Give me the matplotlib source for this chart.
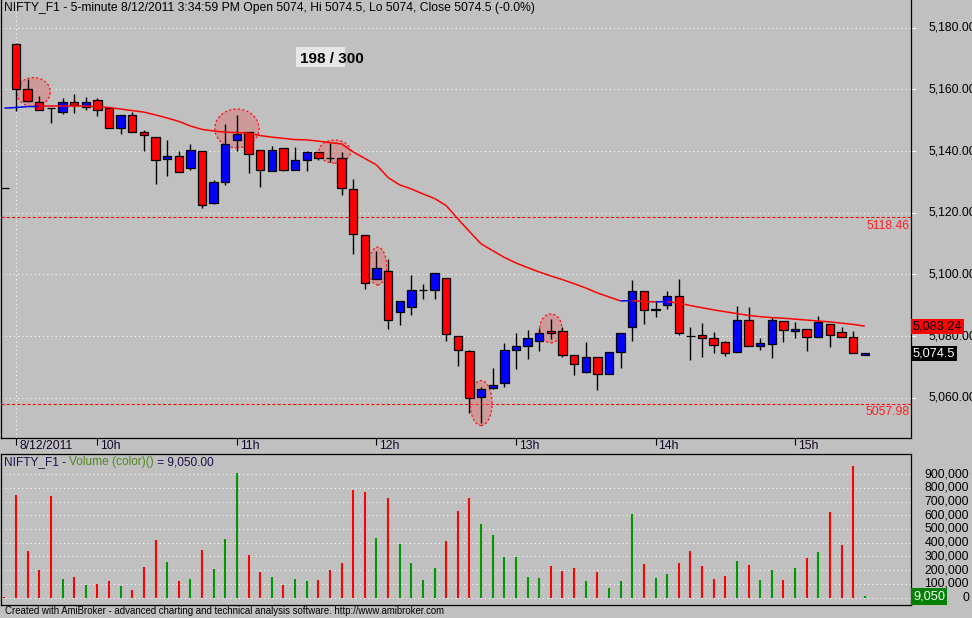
import numpy as np
import matplotlib
matplotlib.use('Agg')
import matplotlib.pyplot as plt
from matplotlib.patches import Ellipse, Rectangle
from matplotlib.collections import LineCollection
from matplotlib.transforms import blended_transform_factory

plt.rcParams['font.family'] = ['Liberation Sans', 'DejaVu Sans']

# 5-minute bars, index -1 is the last bar of the previous session
bar_index = np.arange(-1, 74)
opens = [5128.0,
         5174.7, 5160.0, 5155.8, 5153.8, 5152.5, 5155.8, 5154.2, 5156.4, 5153.8, 5147.4,
         5151.6, 5146.1, 5144.7, 5137.3, 5138.3, 5134.5, 5139.9, 5123.1, 5129.9, 5143.5,
         5146.1, 5140.2, 5133.4, 5140.9, 5133.8, 5137.0, 5139.6, 5137.8, 5137.6, 5127.8,
         5112.8, 5098.5, 5101.1, 5087.7, 5089.4, 5095.0, 5094.9, 5098.9, 5080.1, 5075.2,
         5060.3, 5063.1, 5064.7, 5075.4, 5076.7, 5078.3, 5081.6, 5081.6, 5073.8, 5068.3,
         5073.1, 5067.6, 5074.7, 5082.9, 5094.5, 5088.6, 5090.0, 5092.9, 5079.9, 5080.3,
         5079.3, 5078.0, 5074.7, 5085.1, 5076.7, 5077.3, 5084.8, 5081.6, 5082.2, 5079.6,
         5083.8, 5081.2, 5079.6, 5074.0]
highs = [5128.0,
         5174.9, 5163.3, 5157.8, 5154.0, 5157.3, 5158.5, 5157.5, 5157.2, 5153.8, 5151.6,
         5152.5, 5146.7, 5144.7, 5143.5, 5139.9, 5142.4, 5139.9, 5130.5, 5148.7, 5151.6,
         5146.1, 5140.2, 5141.5, 5140.9, 5141.2, 5139.9, 5139.6, 5142.5, 5139.6, 5130.8,
         5112.8, 5107.6, 5105.1, 5091.3, 5099.8, 5096.8, 5100.5, 5098.9, 5080.1, 5075.4,
         5063.5, 5069.6, 5077.7, 5080.9, 5081.9, 5082.5, 5085.4, 5082.9, 5073.8, 5078.0,
         5073.1, 5074.7, 5080.9, 5098.1, 5094.5, 5091.0, 5094.5, 5098.4, 5082.9, 5084.1,
         5081.2, 5078.4, 5089.7, 5089.3, 5079.3, 5086.1, 5084.8, 5084.5, 5082.2, 5086.4,
         5083.8, 5082.9, 5081.6, 5074.5]
lows = [5128.0,
        5153.1, 5156.0, 5153.2, 5149.2, 5152.1, 5152.4, 5153.4, 5151.4, 5147.4, 5145.4,
        5146.0, 5139.9, 5129.2, 5131.8, 5133.1, 5133.8, 5121.4, 5122.8, 5128.9, 5139.9,
        5132.9, 5128.2, 5133.4, 5133.4, 5133.8, 5133.4, 5137.0, 5136.3, 5125.6, 5106.5,
        5095.3, 5098.5, 5082.3, 5083.5, 5086.8, 5092.1, 5092.1, 5078.4, 5070.3, 5055.1,
        5051.7, 5062.8, 5063.4, 5069.2, 5072.5, 5075.1, 5079.0, 5073.1, 5067.3, 5068.0,
        5062.4, 5067.6, 5069.6, 5078.3, 5083.8, 5086.1, 5088.7, 5080.3, 5072.2, 5073.3,
        5074.4, 5073.5, 5074.7, 5076.7, 5075.4, 5072.8, 5078.2, 5079.3, 5075.1, 5079.6,
        5076.4, 5079.6, 5074.4, 5074.0]
closes = [5128.0,
          5160.0, 5156.3, 5153.2, 5153.8, 5155.8, 5154.8, 5155.8, 5153.2, 5147.4, 5151.6,
          5146.1, 5145.1, 5137.0, 5138.3, 5133.1, 5140.2, 5122.4, 5129.9, 5142.2, 5145.4,
          5138.9, 5134.0, 5140.2, 5134.0, 5137.0, 5139.6, 5137.6, 5137.8, 5127.9, 5113.0,
          5097.3, 5102.1, 5085.2, 5091.3, 5094.9, 5095.05, 5100.5, 5080.7, 5075.6, 5060.0,
          5062.9, 5064.1, 5075.4, 5076.7, 5079.3, 5080.9, 5080.9, 5073.8, 5070.9, 5073.1,
          5067.6, 5074.7, 5080.9, 5094.5, 5088.4, 5088.65, 5092.9, 5080.9, 5079.9, 5079.3,
          5077.0, 5074.4, 5085.1, 5076.7, 5077.7, 5085.1, 5081.9, 5082.2, 5079.6, 5084.5,
          5080.3, 5079.6, 5074.4, 5074.5]
volumes = [7000,
           748000, 340000, 201000, 740000, 136000, 150000, 92000, 100000, 121000, 85000,
           56000, 223000, 420000, 260000, 121000, 136000, 347000, 209000, 427000, 908000,
           311000, 187000, 150000, 92000, 136000, 121000, 129000, 201000, 252000, 784000,
           769000, 434000, 726000, 391000, 252000, 129000, 216000, 413000, 631000, 726000,
           536000, 456000, 296000, 296000, 150000, 143000, 231000, 194000, 216000, 121000,
           187000, 70000, 121000, 609000, 245000, 143000, 172000, 252000, 340000, 231000,
           136000, 158000, 267000, 238000, 129000, 201000, 129000, 216000, 289000, 333000,
           624000, 383000, 959000, 9050]
ma_values = [5153.9,
             5154.1, 5154.4, 5154.5, 5154.5, 5154.5, 5154.5, 5154.5, 5154.4, 5154.1, 5153.6,
             5153.1, 5152.6, 5151.7, 5150.7, 5149.6, 5148.1, 5147.0, 5146.5, 5146.1, 5146.0,
             5145.8, 5145.0, 5144.5, 5144.1, 5143.7, 5143.6, 5143.2, 5142.7, 5142.3, 5139.7,
             5137.6, 5135.5, 5131.4, 5129.0, 5127.7, 5126.1, 5124.6, 5122.3, 5118.0, 5113.9,
             5109.9, 5107.7, 5105.5, 5103.7, 5102.2, 5100.8, 5099.5, 5098.3, 5097.0, 5095.6,
             5094.0, 5092.7, 5091.4, 5091.5, 5091.2, 5091.1, 5091.2, 5090.7, 5089.9, 5089.2,
             5088.5, 5087.9, 5087.3, 5086.7, 5086.3, 5086.0, 5085.8, 5085.5, 5085.2, 5084.9,
             5084.6, 5084.2, 5083.8, 5083.24]

hour_ticks = [0, 7, 19, 31, 43, 55, 67]
hour_labels = ['8/12/2011', '10h', '11h', '12h', '13h', '14h', '15h']
price_levels = [5060, 5080, 5100, 5120, 5140, 5160, 5180]
volume_levels = [0, 100000, 200000, 300000, 400000, 500000, 600000, 700000, 800000, 900000]
hline_levels = [5118.46, 5057.98]
# highlighted bars: (bar, price, width in bars, height in points)
highlights = [(1.5, 5159.1, 2.9, 9.4), (19.0, 5147.3, 3.8, 12.6), (27.4, 5139.8, 2.75, 7.5),
              (31.1, 5102.7, 1.55, 12.3), (40.0, 5058.3, 1.9, 14.6), (46.0, 5082.5, 1.9, 9.4)]

BG = '#c0c0c0'
W, H = 972, 618
fig = plt.figure(figsize=(9.72, 6.18), dpi=100, facecolor=BG)

def frac(x0, y0, x1, y1):
    return [x0 / W, 1 - y1 / H, (x1 - x0) / W, (y1 - y0) / H]

ax = fig.add_axes(frac(0.5, 0, 911.3, 438.3), facecolor=BG)
axv = fig.add_axes(frac(0.5, 454.3, 911.3, 605), facecolor=BG)

o = np.array(opens); c = np.array(closes)
up = c > o
body_col = np.where(up, '#0000ff', '#ff0000')
dot = (0, (1, 3))

# price panel
for lv in price_levels:
    ax.axhline(lv, color='white', lw=0.75, ls=dot, zorder=0.5)
ax.axvline(0, color='white', lw=0.75, ls=dot, zorder=0.5)
for lv in hline_levels:
    ax.axhline(lv, color='#ff0000', lw=0.75, ls=(0, (3, 2)), zorder=1)
    ax.annotate(f'{lv:.2f}', xy=(1, lv), xycoords=('axes fraction', 'data'),
                xytext=(-1.5, -1.5), textcoords='offset points', ha='right', va='top',
                color='#ff2020', fontsize=8.8)

for bx, py, bw, ph in highlights:
    ax.add_patch(Ellipse((bx, py), bw, ph, facecolor='#e06a6a', alpha=0.45,
                         edgecolor='none', zorder=1.5))
    ax.add_patch(Ellipse((bx, py), bw, ph, facecolor='none', edgecolor='#ff0000',
                         lw=0.8, ls=(0, (2, 2)), zorder=1.6))

ax.vlines(bar_index, lows, highs, color='black', lw=1.0, zorder=2)
ax.bar(bar_index, np.abs(c - o), bottom=np.minimum(o, c), width=0.72,
       color=body_col, edgecolor='black', linewidth=0.9, zorder=3)

ma = np.array(ma_values)
pts = np.column_stack([bar_index, ma])
segs = np.stack([pts[:-1], pts[1:]], axis=1)
seg_col = np.where(np.diff(ma) > 0, '#0000ff', '#ff0000')
ax.add_collection(LineCollection(segs, colors=seg_col, linewidths=1.1, zorder=4))

ax.set_xlim(-1.334, 77.0)
ax.set_ylim(5046.87, 5188.95)
ax.set_xticks(hour_ticks)
ax.set_xticklabels([])
ax.tick_params(axis='x', direction='out', length=4.8, width=0.8, color='black')
for pos, lab in zip(hour_ticks, hour_labels):
    ax.annotate(lab, xy=(pos, 0), xycoords=('data', 'axes fraction'), xytext=(2.2, -1.5),
                textcoords='offset points', ha='left', va='top', fontsize=8.8, color='#100828')
ax.yaxis.tick_right()
ax.set_yticks(price_levels)
ax.set_yticklabels([])
ax.tick_params(axis='y', direction='out', length=3.3, width=0.8, color='white')
tr = blended_transform_factory(ax.transAxes, ax.transData)
for lv in price_levels:
    ax.text(1.0194, lv, f'{lv:,.2f}', transform=tr, ha='left', va='center', fontsize=8.8,
            color='black', clip_on=False)
ax.text(1.0018, ma_values[-1], f'{ma_values[-1]:,.2f}', transform=tr, ha='left', va='center',
        fontsize=9.2, color='black', zorder=6,
        bbox=dict(boxstyle='square,pad=0.12', fc='#ff0000', ec='none'))
ax.text(1.0018, closes[-1], f'{closes[-1]:,.1f}', transform=tr, ha='left', va='center',
        fontsize=9.2, color='white', zorder=6,
        bbox=dict(boxstyle='square,pad=0.12', fc='black', ec='none'))
for s in ['left', 'right', 'bottom']:
    ax.spines[s].set_color('black')
    ax.spines[s].set_linewidth(0.9)
ax.spines['top'].set_visible(False)

# volume panel
vcol = np.where(up, '#009600', '#ff0000')
for lv in volume_levels:
    axv.axhline(lv, color='white', lw=0.75, ls=dot, zorder=0.5)
axv.vlines(bar_index, 0, volumes, colors=vcol, lw=1.5, zorder=2)
axv.set_xlim(-1.334, 77.0)
axv.set_ylim(-53100, 1043600)
axv.set_xticks([]); axv.set_yticks([])
trv = blended_transform_factory(axv.transAxes, axv.transData)
for lv in volume_levels:
    axv.text(1.0634, lv, f'{lv:,}', transform=trv, ha='right', va='center', fontsize=8.8,
             color='black', clip_on=False)
axv.text(1.0018, volumes[-1], f'{volumes[-1]:,}', transform=trv, ha='left', va='center',
         fontsize=9.2, color='white', zorder=6,
         bbox=dict(boxstyle='square,pad=0.18', fc='#008000', ec='none'))
for s in axv.spines.values():
    s.set_color('black')
    s.set_linewidth(0.9)

# titles and captions
fig.text(4 / W, 1 - 8 / H, 'NIFTY_F1 - 5-minute 8/12/2011 3:34:59 PM Open 5074, Hi 5074.5, '
         'Lo 5074, Close 5074.5 (-0.0%)', ha='left', va='center', fontsize=8.7, color='black')
fig.add_artist(Rectangle((296 / W, 1 - 66.7 / H), 49 / W, 20 / H, transform=fig.transFigure,
                         facecolor='#e6e6e6', edgecolor='none', zorder=5))
fig.text(300 / W, 1 - 59.3 / H, '198 / 300', ha='left', va='center', fontsize=11,
         fontweight='bold', color='black', zorder=6)

t1 = fig.text(4 / W, 1 - 462.5 / H, 'NIFTY_F1 - ', ha='left', va='center', fontsize=8.6,
              color='#1c1048')
t2 = fig.text(0, 0, 'Volume (color)()', fontsize=8.6, color='#4f8a22', ha='left', va='bottom')
t3 = fig.text(0, 0, ' = 9,050.00', fontsize=8.6, color='#1c1048', ha='left', va='bottom')
fig.canvas.draw()
r = fig.canvas.get_renderer()
b1 = t1.get_window_extent(r)
t2.set_position((b1.x1 / W, b1.y0 / H))
b2 = t2.get_window_extent(r)
t3.set_position((b2.x1 / W, b1.y0 / H))

fig.text(5 / W, 1 - 611.5 / H, 'Created with AmiBroker - advanced charting and technical analysis '
         'software. http://www.amibroker.com', ha='left', va='center', fontsize=6.9, color='black')

fig.savefig('out.png', dpi=100, facecolor=BG)
